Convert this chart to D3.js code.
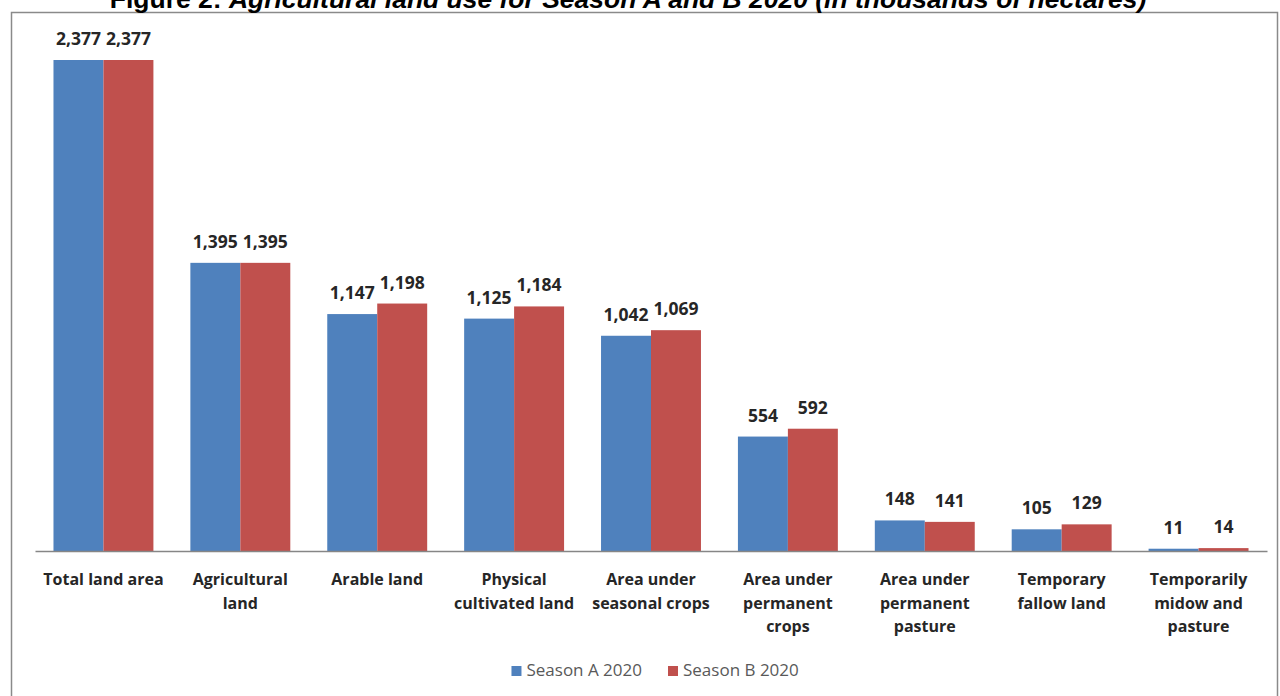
<!DOCTYPE html>
<html>
<head>
<meta charset="utf-8">
<script src="https://cdn.jsdelivr.net/npm/d3@7"></script>
<style>
  html, body { margin: 0; padding: 0; background: #fff; overflow: hidden; }
  svg { display: block; }
</style>
</head>
<body>
<svg id="chart" width="1280" height="696"></svg>
<script>
// ---- data ----
const categories = [
  "Total land area",
  "Agricultural land",
  "Arable land",
  "Physical cultivated land",
  "Area under seasonal crops",
  "Area under permanent crops",
  "Area under permanent pasture",
  "Temporary fallow land",
  "Temporarily midow and pasture"
];
const categoryLines = [
  ["Total land area"],
  ["Agricultural", "land"],
  ["Arable land"],
  ["Physical", "cultivated land"],
  ["Area under", "seasonal crops"],
  ["Area under", "permanent", "crops"],
  ["Area under", "permanent", "pasture"],
  ["Temporary", "fallow land"],
  ["Temporarily", "midow and", "pasture"]
];
const seriesNames = ["Season A 2020", "Season B 2020"];
const seasonA = [2377, 1395, 1147, 1125, 1042, 554, 148, 105, 11];
const seasonB = [2377, 1395, 1198, 1184, 1069, 592, 141, 129, 14];
const yMax = 2500;
const titleLead = "Figure 2: ";
const titleRest = "Agricultural land use for Season A and B 2020 (in thousands of hectares)";

// ---- styles ----
const colors = ["#4F81BD", "#C0504D"];
const svg = d3.select("#chart");

// frame
svg.append("rect")
  .attr("x", 11.5).attr("y", 12.5)
  .attr("width", 1266).attr("height", 720)
  .attr("fill", "#fff")
  .attr("stroke", "#8a8a8a").attr("stroke-width", 1.5);

// title (partly above the top edge, as in the reference)
const title = svg.append("text")
  .attr("x", 628).attr("y", 8)
  .attr("text-anchor", "middle")
  .attr("font-family", "Liberation Sans, Arial, sans-serif")
  .attr("font-weight", "bold")
  .attr("font-size", 20)
  .attr("fill", "#000");
title.append("tspan").text(titleLead);
title.append("tspan").attr("font-style", "italic").text(titleRest);
const tw = title.node().getComputedTextLength();
title.attr("font-size", 20 * 1037 / tw);

// scales
const x0 = d3.scaleBand().domain(categories).range([35, 1267])
  .paddingInner(0.27).paddingOuter(0.135);
const x1 = d3.scaleBand().domain(seriesNames).range([0, x0.bandwidth()]);
const y = d3.scaleLinear().domain([0, yMax]).range([551, 551 - yMax * 491 / 2377]);

const rows = categories.map((c, i) => ({
  cat: c, lines: categoryLines[i],
  vals: [{s: seriesNames[0], v: seasonA[i], k: 0}, {s: seriesNames[1], v: seasonB[i], k: 1}]
}));

// bars
const g = svg.append("g");
const grp = g.selectAll("g.cat").data(rows).join("g")
  .attr("class", "cat")
  .attr("transform", d => `translate(${x0(d.cat)},0)`);

grp.selectAll("rect").data(d => d.vals).join("rect")
  .attr("x", d => x1(d.s))
  .attr("width", x1.bandwidth())
  .attr("y", d => y(d.v))
  .attr("height", d => y(0) - y(d.v))
  .attr("fill", d => colors[d.k]);

// data labels
grp.selectAll("text.val").data(d => d.vals).join("text")
  .attr("class", "val")
  .attr("x", d => x1(d.s) + x1.bandwidth() / 2)
  .attr("y", d => y(d.v) - 15)
  .attr("text-anchor", "middle")
  .attr("font-family", "Open Sans, sans-serif")
  .attr("font-weight", "bold")
  .attr("font-size", 17.5)
  .attr("fill", "#262626")
  .text(d => d3.format(",")(d.v));

// axis
const xAxis = d3.axisBottom(x0).tickSize(0).tickFormat("");
const ax = svg.append("g").attr("transform", `translate(0,${y(0)})`).call(xAxis);
ax.select(".domain").attr("stroke", "#868686").attr("stroke-width", 1.5);

// category labels
const cl = svg.append("g");
rows.forEach(r => {
  const cx = x0(r.cat) + x0.bandwidth() / 2;
  const t = cl.append("text")
    .attr("text-anchor", "middle")
    .attr("font-family", "Open Sans, sans-serif")
    .attr("font-weight", "bold")
    .attr("font-size", 16)
    .attr("fill", "#262626");
  r.lines.forEach((ln, j) => {
    t.append("tspan").attr("x", cx).attr("y", 585 + j * 23.5).text(ln);
  });
});

// legend
const leg = svg.append("g");
const items = leg.selectAll("g").data(seriesNames).join("g");
items.append("rect").attr("width", 10).attr("height", 10).attr("y", 666)
  .attr("fill", (d, i) => colors[i]);
items.append("text")
  .attr("y", 676)
  .attr("font-family", "Open Sans, sans-serif")
  .attr("font-size", 17)
  .attr("fill", "#595959")
  .text(d => d);
const widths = [];
items.select("text").each(function () { widths.push(this.getComputedTextLength()); });
const redX = 668;
const blueX = redX - 26 - widths[0] - 15;
const xs = [blueX, redX];
items.select("rect").attr("x", (d, i) => xs[i]);
items.select("text").attr("x", (d, i) => xs[i] + 15);
</script>
</body>
</html>
